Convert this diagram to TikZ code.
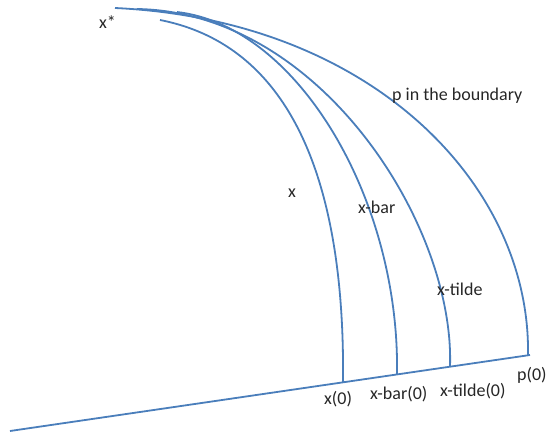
\documentclass[tikz,border=0pt]{standalone}
\usepackage{fontspec}
\setmainfont{Carlito}
\definecolor{curveblue}{RGB}{74,126,187}
\tikzset{
  curve/.style={draw=curveblue, line width=1.8pt},
  lbl/.style={inner sep=0pt, anchor=base west, font=\fontsize{18}{21}\selectfont, text=black!85}
}
\begin{document}
\begin{tikzpicture}[x=1pt,y=-1pt]
\useasboundingbox (0,0) rectangle (547,436);
% base line
\coordinate (b0) at (10,431);
\coordinate (b1) at (530,355);
\draw[curve] (b0) -- (b1);
% curve endpoints
\coordinate (xb) at (343,382.3);
\coordinate (xt) at (160,20);
\coordinate (bb) at (397,374.4);
\coordinate (bt) at (177,12);
\coordinate (tb) at (450,366.7);
\coordinate (tt) at (137,9);
\coordinate (ob) at (528,355.3);
\coordinate (ot) at (115,8);
% curves
\draw[curve] (xb) .. controls (345,205) and (303,48) .. (xt);
\draw[curve] (bb) .. controls (400,200) and (298,26) .. (bt);
\draw[curve] (tb) .. controls (455,225) and (320,12) .. (tt);
\draw[curve] (ob) .. controls (531,185) and (372,20) .. (ot);
% labels
\node[lbl] (lxs) at (99,29) {x*};
\node[lbl] (lp) at (392,101) {p in the boundary};
\node[lbl] (lx) at (288,197) {x};
\node[lbl] (lxb) at (358,213) {x-bar};
\node[lbl] (lxt) at (437,295) {x-tilde};
\node[lbl] (lx0) at (324,404) {x(0)};
\node[lbl] (lxb0) at (370,399) {x-bar(0)};
\node[lbl] (lxt0) at (440,396) {x-tilde(0)};
\node[lbl] (lp0) at (517,380) {p(0)};
\end{tikzpicture}
\end{document}
